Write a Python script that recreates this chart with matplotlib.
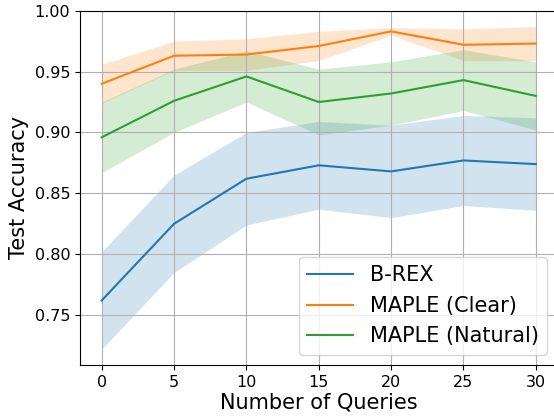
import numpy as np
import matplotlib
matplotlib.use("Agg")
import matplotlib.pyplot as plt

queries = [0, 5, 10, 15, 20, 25, 30]

# mean test accuracy per method
brex_mean = [0.762, 0.825, 0.862, 0.873, 0.868, 0.877, 0.874]
brex_std = [0.040, 0.040, 0.038, 0.036, 0.038, 0.037, 0.038]

clear_mean = [0.940, 0.963, 0.964, 0.971, 0.983, 0.972, 0.973]
clear_std = [0.016, 0.012, 0.013, 0.012, 0.003, 0.013, 0.014]

natural_mean = [0.896, 0.926, 0.946, 0.925, 0.932, 0.943, 0.930]
natural_std = [0.029, 0.026, 0.021, 0.027, 0.026, 0.025, 0.028]

labels = ["B-REX", "MAPLE (Clear)", "MAPLE (Natural)"]

fig = plt.figure(figsize=(5.54, 4.16), dpi=100)
ax = fig.add_axes([0.1444, 0.1226, 0.862, 0.8517])

x = np.array(queries)
for m, s, lab in zip([brex_mean, clear_mean, natural_mean],
                     [brex_std, clear_std, natural_std], labels):
    m = np.array(m)
    s = np.array(s)
    line, = ax.plot(x, m, label=lab, lw=1.5)
    ax.fill_between(x, m - s, m + s, color=line.get_color(), alpha=0.2, lw=0)

ax.set_ylim(0.709, 1.0)
ax.set_xticks(queries)
ax.tick_params(labelsize=11.5)
ax.grid(True)
ax.set_xlabel("Number of Queries", fontsize=15, labelpad=2)
ax.set_ylabel("Test Accuracy", fontsize=15)
ax.legend(loc="lower right", fontsize=15, handlelength=2.2)

fig.savefig("out.png", dpi=100)
